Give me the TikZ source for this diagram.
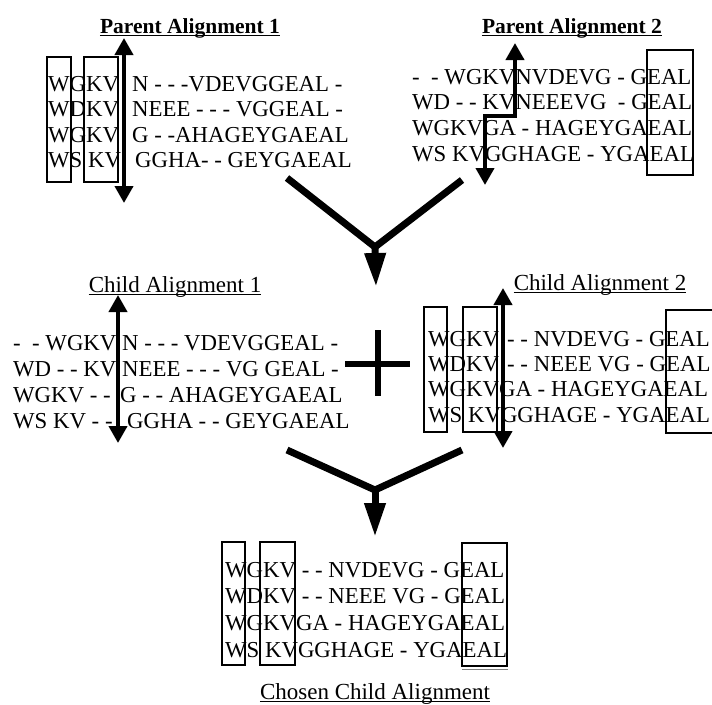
\documentclass[tikz,border=0pt]{standalone}
\usepackage{fontspec}
\setmainfont{Liberation Serif}
\usetikzlibrary{arrows.meta}
\begin{document}
\begin{tikzpicture}[x=1pt,y=-1pt,
  seq/.style={anchor=base west,inner sep=0pt,font=\fontsize{22.8}{26}\selectfont},
  ptitle/.style={anchor=base,inner sep=0pt,font=\fontsize{21.5}{26}\selectfont\bfseries},
  ctitle/.style={anchor=base,inner sep=0pt,font=\fontsize{23}{26}\selectfont},
  colbox/.style={draw,line width=2.5pt},
  gapboth/.style={line width=4pt,{Triangle[width=18pt,length=17pt]}-{Triangle[width=18pt,length=17pt]}},
  merge/.style={line width=7pt,line join=miter},
  mergehead/.style={line width=7pt,-{Triangle[width=20pt,length=34pt]}},
  plusbar/.style={line width=5.5pt},
]
\useasboundingbox (0,0) rectangle (712,704);

% ---------- titles ----------
\node[ptitle] (tp1) at (190,33) {Parent Alignment 1};
\node[ptitle] (tp2) at (572,33) {Parent Alignment 2};
\node[ctitle] (tc1) at (175,292) {Child Alignment 1};
\node[ctitle] (tc2) at (600,290) {Child Alignment 2};
\node[ctitle] (tch) at (375,699) {Chosen Child Alignment};
\foreach \t in {tp1,tp2}
  \draw[line width=1.4pt] ([yshift=-2.5pt]\t.base west) -- ([yshift=-2.5pt]\t.base east);
\foreach \t in {tc1,tc2,tch}
  \draw[line width=1pt] ([yshift=-2.8pt]\t.base west) -- ([yshift=-2.8pt]\t.base east);

% ---------- parent alignment 1 ----------
\node[seq] (p1a1) at (48,91)    {WGKV};
\node[seq] (p1b1) at (132,91)   {N - - -VDEVGGEAL -};
\node[seq] (p1a2) at (48,116.5) {WDKV};
\node[seq] (p1b2) at (132,116.5){NEEE - - - VGGEAL -};
\node[seq] (p1a3) at (48,142)   {WGKV};
\node[seq] (p1b3) at (132,142)  {G - -AHAGEYGAEAL};
\node[seq] (p1a4) at (48,167.5) {WS KV};
\node[seq] (p1b4) at (135,167.5){GGHA- - GEYGAEAL};

\draw[colbox] (47,57) rectangle (71,182);
\draw[colbox] (84,57) rectangle (118,182);
\coordinate (g1top) at (124,38);
\coordinate (g1bot) at (124,203);
\draw[gapboth] (g1top) -- (g1bot);

% ---------- parent alignment 2 ----------
\node[seq] (p2r1) at (412,84)    {-\ \ - WGKVNVDEVG - GEAL};
\node[seq] (p2r2) at (412,109.5) {WD - - KVNEEEVG\ \ - GEAL};
\node[seq] (p2r3) at (412,135.5) {WGKVGA - HAGEYGAEAL};
\node[seq] (p2r4) at (412,161)   {WS KVGGHAGE - YGAEAL};

\draw[colbox] (647,50) rectangle (693,175);
\coordinate (g2top) at (515,43);
\coordinate (g2k1) at (515,116);
\coordinate (g2k2) at (485,116);
\coordinate (g2bot) at (485,185);
\draw[gapboth,line join=miter] (g2top) -- (g2k1) -- (g2k2) -- (g2bot);

% ---------- merge of the parents ----------
\coordinate (m1l) at (287,178);
\coordinate (m1r) at (462,180);
\coordinate (m1j) at (375,247);
\coordinate (m1t) at (376,287);
\draw[merge] (m1l) -- (m1j) -- (m1r);
\draw[mergehead] (m1j) -- (m1t);

% ---------- child alignment 1 ----------
\node[seq] (c1a1) at (13,350)  {-\ \ - WGKV};
\node[seq] (c1b1) at (122,350) {N - - - VDEVGGEAL -};
\node[seq] (c1a2) at (13,376)  {WD - - KV};
\node[seq] (c1b2) at (122,376) {NEEE - - - VG GEAL -};
\node[seq] (c1a3) at (13,402)  {WGKV - -};
\node[seq] (c1b3) at (120,402) {G - - AHAGEYGAEAL};
\node[seq] (c1a4) at (13,428)  {WS KV - -};
\node[seq] (c1b4) at (127,428) {GGHA - - GEYGAEAL};

\coordinate (g3top) at (118,295);
\coordinate (g3bot) at (118,443);
\draw[gapboth] (g3top) -- (g3bot);

% ---------- plus sign ----------
\coordinate (plw) at (345,364);
\coordinate (ple) at (410,364);
\coordinate (pln) at (378,330);
\coordinate (pls) at (378,396);
\draw[plusbar] (plw) -- (ple);
\draw[plusbar] (pln) -- (pls);

% ---------- child alignment 2 ----------
\node[seq] (c2a1) at (428,346)   {WGKV};
\node[seq] (c2b1) at (507,346)   {- - NVDEVG - GEAL};
\node[seq] (c2a2) at (428,371)   {WDKV};
\node[seq] (c2b2) at (507,371)   {- - NEEE VG - GEAL};
\node[seq] (c2r3) at (428,396.5) {WGKVGA - HAGEYGAEAL};
\node[seq] (c2r4) at (428,422)   {WS KVGGHAGE - YGAEAL};

\draw[colbox] (424,307) rectangle (447,432);
\draw[colbox] (463,307) rectangle (497,432);
\draw[colbox] (716,310) -- (666,310) -- (666,433) -- (716,433);
\coordinate (g4top) at (503,288);
\coordinate (g4bot) at (503,448);
\draw[gapboth] (g4top) -- (g4bot);

% ---------- merge of the children ----------
\coordinate (m2l) at (287,450);
\coordinate (m2r) at (462,450);
\coordinate (m2j) at (375,490);
\coordinate (m2t) at (375,537);
\draw[merge] (m2l) -- (m2j) -- (m2r);
\draw[mergehead] (m2j) -- (m2t);

% ---------- chosen child alignment ----------
\node[seq] (chr1) at (225,577) {WGKV - - NVDEVG - GEAL};
\node[seq] (chr2) at (225,603) {WDKV - - NEEE VG - GEAL};
\node[seq] (chr3) at (225,630) {WGKVGA - HAGEYGAEAL};
\node[seq] (chr4) at (225,657) {WS KVGGHAGE - YGAEAL};

\draw[colbox] (222,542) rectangle (245,665);
\draw[colbox] (260,542) rectangle (295,665);
\draw[colbox] (462,543) rectangle (507,666);
\draw[line width=1pt,gray] (462,669.5) -- (508,669.5);
\end{tikzpicture}
\end{document}
